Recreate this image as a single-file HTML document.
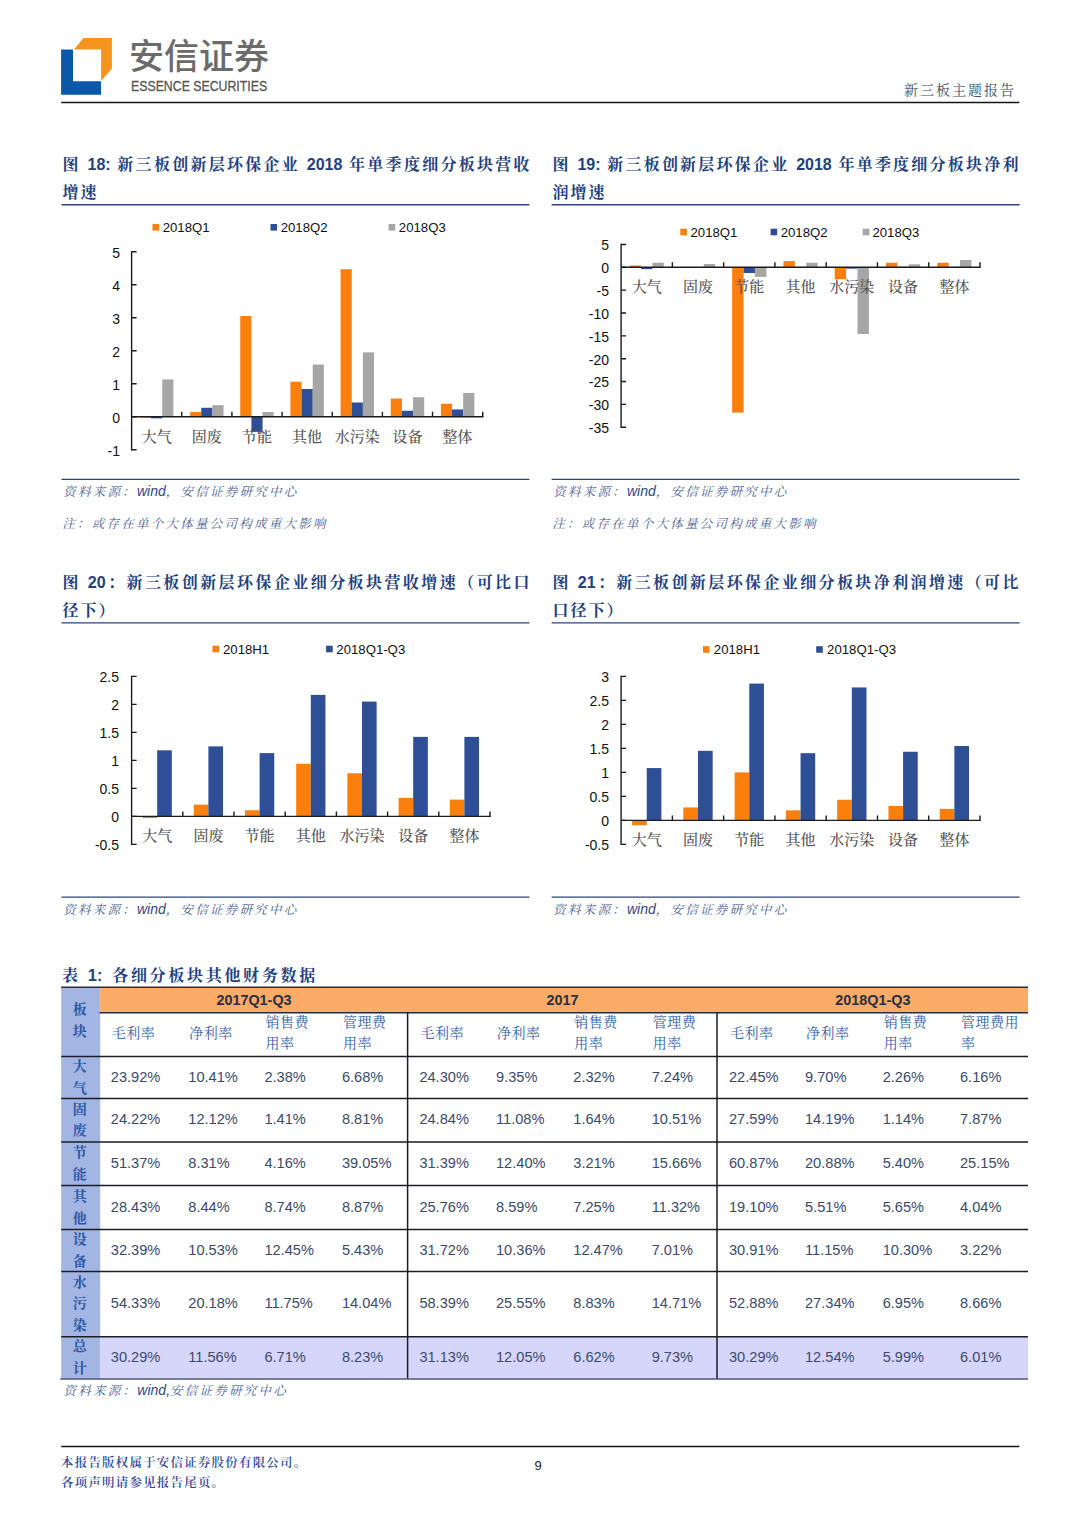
<!DOCTYPE html>
<html lang="zh-CN"><head><meta charset="utf-8"><title>新三板主题报告</title>
<style>
html,body{margin:0;padding:0;background:#fff}
body{width:1080px;height:1527px;position:relative;overflow:hidden;font-family:"Liberation Sans","Noto Sans CJK SC",sans-serif}
.abs,.ft,.src,.tbl div{position:absolute}
.logo-cn{left:129px;top:32.5px;font:500 35px/48px "Liberation Sans","Noto Sans CJK SC",sans-serif;color:#6b6b6b;letter-spacing:0;white-space:nowrap}
.logo-en{left:131px;top:77.4px;font:400 14.8px/18px "Liberation Sans",sans-serif;color:#555;-webkit-text-stroke:.3px #555;white-space:nowrap;transform:scaleX(.832);transform-origin:0 0}
.rpt{right:64px;top:80px;font:400 14px/20px "Liberation Sans","Noto Serif CJK SC",serif;color:#3d4c68;letter-spacing:2px;white-space:nowrap}
.ft{font:700 16px/26px "Liberation Sans","Noto Serif CJK SC",serif;color:#223f80;white-space:nowrap;letter-spacing:2px}
.ft.j{text-align:justify;text-align-last:justify;white-space:normal;height:26px;overflow:hidden;letter-spacing:0}
.ft .n{font-size:16px;letter-spacing:0}
.src{font:italic 400 12.5px/20px "Liberation Sans","Noto Serif CJK SC",serif;color:#4a5f96;letter-spacing:2.25px;white-space:nowrap}
.src .en{font-size:14px;letter-spacing:0;color:#2f477f}
svg{position:absolute;left:0;top:0}
.yl{font:14px "Liberation Sans",sans-serif;fill:#111}
.lg{font:13.2px "Liberation Sans",sans-serif;fill:#111}
.cl{font:500 15px "Liberation Serif","Noto Serif CJK SC",serif;fill:#555}
.tt{left:62px;top:964.2px;font:700 16px/22px "Liberation Sans","Noto Serif CJK SC",serif;color:#223f80;letter-spacing:2.7px;white-space:nowrap}
.tbl .c1t{left:60.5px;width:38.3px;text-align:center;font:700 14px/21.5px "Liberation Sans","Noto Serif CJK SC",serif;color:#2a55a5}
.tbl .td{font:400 14.6px/19px "Liberation Sans",sans-serif;color:#3b4a6b;white-space:nowrap}
.tbl .gh{width:120px;text-align:center;top:990px;font:700 14.4px/20px "Liberation Sans",sans-serif;color:#2b2f45;white-space:nowrap}
.tbl .th{font:400 14px/21px "Liberation Sans","Noto Serif CJK SC",serif;color:#3461ad;letter-spacing:.5px;white-space:nowrap}
.foot{left:61px;top:1454.3px;font:600 12.4px/19.7px "Liberation Sans","Noto Serif CJK SC",serif;color:#28469a;letter-spacing:1.3px;white-space:nowrap}
.pg{left:520px;width:36px;text-align:center;top:1457px;font:400 13px/18px "Liberation Sans",sans-serif;color:#222}
</style></head><body>
<svg width="1080" height="1527" viewBox="0 0 1080 1527">
<path d="M61.1 49.6H73V81.2H101V94.8H61.1Z" fill="#0b58a8"/>
<path d="M74 49.6L83.3 38.1H111.9V68.5L101.1 81V49.6Z" fill="#f7941e"/>
<g>
<rect x="139.96" y="416.70" width="11.15" height="0.99" fill="#FA7F0C"/>
<rect x="151.11" y="416.70" width="11.15" height="1.65" fill="#2E4E95"/>
<rect x="162.25" y="379.41" width="11.15" height="37.29" fill="#A6A6A6"/>
<rect x="190.12" y="412.08" width="11.15" height="4.62" fill="#FA7F0C"/>
<rect x="201.26" y="407.79" width="11.15" height="8.91" fill="#2E4E95"/>
<rect x="212.41" y="405.15" width="11.15" height="11.55" fill="#A6A6A6"/>
<rect x="240.27" y="316.05" width="11.15" height="100.65" fill="#FA7F0C"/>
<rect x="251.42" y="416.70" width="11.15" height="15.18" fill="#2E4E95"/>
<rect x="262.57" y="412.08" width="11.15" height="4.62" fill="#A6A6A6"/>
<rect x="290.43" y="381.72" width="11.15" height="34.98" fill="#FA7F0C"/>
<rect x="301.58" y="388.98" width="11.15" height="27.72" fill="#2E4E95"/>
<rect x="312.72" y="364.56" width="11.15" height="52.14" fill="#A6A6A6"/>
<rect x="340.59" y="269.19" width="11.15" height="147.51" fill="#FA7F0C"/>
<rect x="351.73" y="402.51" width="11.15" height="14.19" fill="#2E4E95"/>
<rect x="362.88" y="352.35" width="11.15" height="64.35" fill="#A6A6A6"/>
<rect x="390.75" y="398.55" width="11.15" height="18.15" fill="#FA7F0C"/>
<rect x="401.89" y="410.76" width="11.15" height="5.94" fill="#2E4E95"/>
<rect x="413.04" y="397.23" width="11.15" height="19.47" fill="#A6A6A6"/>
<rect x="440.90" y="403.83" width="11.15" height="12.87" fill="#FA7F0C"/>
<rect x="452.05" y="409.44" width="11.15" height="7.26" fill="#2E4E95"/>
<rect x="463.19" y="392.94" width="11.15" height="23.76" fill="#A6A6A6"/>
<path d="M131.60 251.00V450.40 M131.60 416.70H483.40" stroke="#1c1c1c" stroke-width="1.4" fill="none"/>
<path d="M131.60 449.70h5 M131.60 416.70h5 M131.60 383.70h5 M131.60 350.70h5 M131.60 317.70h5 M131.60 284.70h5 M131.60 251.70h5 M181.76 416.70v-5 M231.91 416.70v-5 M282.07 416.70v-5 M332.23 416.70v-5 M382.39 416.70v-5 M432.54 416.70v-5 M482.70 416.70v-5" stroke="#1c1c1c" stroke-width="1.4" fill="none"/>
<text x="120.0" y="455.5" text-anchor="end" class="yl">-1</text>
<text x="120.0" y="422.5" text-anchor="end" class="yl">0</text>
<text x="120.0" y="389.5" text-anchor="end" class="yl">1</text>
<text x="120.0" y="356.5" text-anchor="end" class="yl">2</text>
<text x="120.0" y="323.5" text-anchor="end" class="yl">3</text>
<text x="120.0" y="290.5" text-anchor="end" class="yl">4</text>
<text x="120.0" y="257.5" text-anchor="end" class="yl">5</text>
<text x="156.7" y="441.7" text-anchor="middle" class="cl">大气</text>
<text x="206.8" y="441.7" text-anchor="middle" class="cl">固废</text>
<text x="257.0" y="441.7" text-anchor="middle" class="cl">节能</text>
<text x="307.1" y="441.7" text-anchor="middle" class="cl">其他</text>
<text x="357.3" y="441.7" text-anchor="middle" class="cl">水污染</text>
<text x="407.5" y="441.7" text-anchor="middle" class="cl">设备</text>
<text x="457.6" y="441.7" text-anchor="middle" class="cl">整体</text>
<rect x="152.5" y="224.0" width="6.6" height="6.6" fill="#FA7F0C"/>
<text x="162.7" y="231.9" class="lg">2018Q1</text>
<rect x="270.5" y="224.0" width="6.6" height="6.6" fill="#2E4E95"/>
<text x="280.7" y="231.9" class="lg">2018Q2</text>
<rect x="388.6" y="224.0" width="6.6" height="6.6" fill="#A6A6A6"/>
<text x="398.8" y="231.9" class="lg">2018Q3</text>
</g><g>
<rect x="629.65" y="265.47" width="11.39" height="1.83" fill="#FA7F0C"/>
<rect x="641.04" y="267.30" width="11.39" height="1.83" fill="#2E4E95"/>
<rect x="652.43" y="262.73" width="11.39" height="4.57" fill="#A6A6A6"/>
<rect x="680.92" y="267.07" width="11.39" height="0.23" fill="#FA7F0C"/>
<rect x="692.31" y="267.07" width="11.39" height="0.23" fill="#2E4E95"/>
<rect x="703.70" y="264.01" width="11.39" height="3.29" fill="#A6A6A6"/>
<rect x="732.19" y="267.30" width="11.39" height="145.33" fill="#FA7F0C"/>
<rect x="743.58" y="267.30" width="11.39" height="5.71" fill="#2E4E95"/>
<rect x="754.98" y="267.30" width="11.39" height="9.60" fill="#A6A6A6"/>
<rect x="783.46" y="261.13" width="11.39" height="6.17" fill="#FA7F0C"/>
<rect x="794.85" y="266.84" width="11.39" height="0.46" fill="#2E4E95"/>
<rect x="806.25" y="262.73" width="11.39" height="4.57" fill="#A6A6A6"/>
<rect x="834.73" y="267.30" width="11.39" height="11.88" fill="#FA7F0C"/>
<rect x="846.12" y="267.30" width="11.39" height="1.37" fill="#2E4E95"/>
<rect x="857.52" y="267.30" width="11.39" height="66.72" fill="#A6A6A6"/>
<rect x="886.00" y="262.73" width="11.39" height="4.57" fill="#FA7F0C"/>
<rect x="897.40" y="266.84" width="11.39" height="0.46" fill="#2E4E95"/>
<rect x="908.79" y="264.33" width="11.39" height="2.97" fill="#A6A6A6"/>
<rect x="937.27" y="262.73" width="11.39" height="4.57" fill="#FA7F0C"/>
<rect x="948.67" y="266.84" width="11.39" height="0.46" fill="#2E4E95"/>
<rect x="960.06" y="259.99" width="11.39" height="7.31" fill="#A6A6A6"/>
<path d="M621.10 243.75V427.95 M621.10 267.30H980.70" stroke="#1c1c1c" stroke-width="1.4" fill="none"/>
<path d="M621.10 427.25h5 M621.10 404.40h5 M621.10 381.55h5 M621.10 358.70h5 M621.10 335.85h5 M621.10 313.00h5 M621.10 290.15h5 M621.10 267.30h5 M621.10 244.45h5 M672.37 267.30v-5 M723.64 267.30v-5 M774.91 267.30v-5 M826.19 267.30v-5 M877.46 267.30v-5 M928.73 267.30v-5 M980.00 267.30v-5" stroke="#1c1c1c" stroke-width="1.4" fill="none"/>
<text x="609.0" y="433.1" text-anchor="end" class="yl">-35</text>
<text x="609.0" y="410.2" text-anchor="end" class="yl">-30</text>
<text x="609.0" y="387.4" text-anchor="end" class="yl">-25</text>
<text x="609.0" y="364.5" text-anchor="end" class="yl">-20</text>
<text x="609.0" y="341.7" text-anchor="end" class="yl">-15</text>
<text x="609.0" y="318.8" text-anchor="end" class="yl">-10</text>
<text x="609.0" y="296.0" text-anchor="end" class="yl">-5</text>
<text x="609.0" y="273.1" text-anchor="end" class="yl">0</text>
<text x="609.0" y="250.3" text-anchor="end" class="yl">5</text>
<text x="646.7" y="291.7" text-anchor="middle" class="cl">大气</text>
<text x="698.0" y="291.7" text-anchor="middle" class="cl">固废</text>
<text x="749.3" y="291.7" text-anchor="middle" class="cl">节能</text>
<text x="800.5" y="291.7" text-anchor="middle" class="cl">其他</text>
<text x="851.8" y="291.7" text-anchor="middle" class="cl">水污染</text>
<text x="903.1" y="291.7" text-anchor="middle" class="cl">设备</text>
<text x="954.4" y="291.7" text-anchor="middle" class="cl">整体</text>
<rect x="680.3" y="228.7" width="6.6" height="6.6" fill="#FA7F0C"/>
<text x="690.5" y="236.6" class="lg">2018Q1</text>
<rect x="770.6" y="228.7" width="6.6" height="6.6" fill="#2E4E95"/>
<text x="780.7" y="236.6" class="lg">2018Q2</text>
<rect x="862.7" y="228.7" width="6.6" height="6.6" fill="#A6A6A6"/>
<text x="872.4" y="236.6" class="lg">2018Q3</text>
</g><g>
<rect x="142.57" y="816.40" width="14.63" height="1.68" fill="#FA7F0C"/>
<rect x="157.20" y="750.32" width="14.63" height="66.08" fill="#2E4E95"/>
<rect x="193.77" y="804.64" width="14.63" height="11.76" fill="#FA7F0C"/>
<rect x="208.40" y="746.40" width="14.63" height="70.00" fill="#2E4E95"/>
<rect x="244.97" y="810.24" width="14.63" height="6.16" fill="#FA7F0C"/>
<rect x="259.60" y="753.12" width="14.63" height="63.28" fill="#2E4E95"/>
<rect x="296.17" y="763.76" width="14.63" height="52.64" fill="#FA7F0C"/>
<rect x="310.80" y="694.88" width="14.63" height="121.52" fill="#2E4E95"/>
<rect x="347.37" y="773.28" width="14.63" height="43.12" fill="#FA7F0C"/>
<rect x="362.00" y="701.60" width="14.63" height="114.80" fill="#2E4E95"/>
<rect x="398.57" y="797.92" width="14.63" height="18.48" fill="#FA7F0C"/>
<rect x="413.20" y="736.88" width="14.63" height="79.52" fill="#2E4E95"/>
<rect x="449.77" y="799.60" width="14.63" height="16.80" fill="#FA7F0C"/>
<rect x="464.40" y="736.88" width="14.63" height="79.52" fill="#2E4E95"/>
<path d="M131.60 675.70V845.10 M131.60 816.40H490.70" stroke="#1c1c1c" stroke-width="1.4" fill="none"/>
<path d="M131.60 844.40h5 M131.60 816.40h5 M131.60 788.40h5 M131.60 760.40h5 M131.60 732.40h5 M131.60 704.40h5 M131.60 676.40h5 M182.80 816.40v-5 M234.00 816.40v-5 M285.20 816.40v-5 M336.40 816.40v-5 M387.60 816.40v-5 M438.80 816.40v-5 M490.00 816.40v-5" stroke="#1c1c1c" stroke-width="1.4" fill="none"/>
<text x="119.0" y="850.2" text-anchor="end" class="yl">-0.5</text>
<text x="119.0" y="822.2" text-anchor="end" class="yl">0</text>
<text x="119.0" y="794.2" text-anchor="end" class="yl">0.5</text>
<text x="119.0" y="766.2" text-anchor="end" class="yl">1</text>
<text x="119.0" y="738.2" text-anchor="end" class="yl">1.5</text>
<text x="119.0" y="710.2" text-anchor="end" class="yl">2</text>
<text x="119.0" y="682.2" text-anchor="end" class="yl">2.5</text>
<text x="157.2" y="841.2" text-anchor="middle" class="cl">大气</text>
<text x="208.4" y="841.2" text-anchor="middle" class="cl">固废</text>
<text x="259.6" y="841.2" text-anchor="middle" class="cl">节能</text>
<text x="310.8" y="841.2" text-anchor="middle" class="cl">其他</text>
<text x="362.0" y="841.2" text-anchor="middle" class="cl">水污染</text>
<text x="413.2" y="841.2" text-anchor="middle" class="cl">设备</text>
<text x="464.4" y="841.2" text-anchor="middle" class="cl">整体</text>
<rect x="212.5" y="645.7" width="6.6" height="6.6" fill="#FA7F0C"/>
<text x="223.0" y="653.6" class="lg">2018H1</text>
<rect x="326.1" y="645.7" width="6.6" height="6.6" fill="#2E4E95"/>
<text x="336.3" y="653.6" class="lg">2018Q1-Q3</text>
</g><g>
<rect x="632.09" y="820.40" width="14.65" height="4.80" fill="#FA7F0C"/>
<rect x="646.74" y="768.08" width="14.65" height="52.32" fill="#2E4E95"/>
<rect x="683.36" y="807.44" width="14.65" height="12.96" fill="#FA7F0C"/>
<rect x="698.01" y="750.80" width="14.65" height="69.60" fill="#2E4E95"/>
<rect x="734.63" y="772.40" width="14.65" height="48.00" fill="#FA7F0C"/>
<rect x="749.28" y="683.60" width="14.65" height="136.80" fill="#2E4E95"/>
<rect x="785.90" y="810.32" width="14.65" height="10.08" fill="#FA7F0C"/>
<rect x="800.55" y="753.20" width="14.65" height="67.20" fill="#2E4E95"/>
<rect x="837.17" y="799.76" width="14.65" height="20.64" fill="#FA7F0C"/>
<rect x="851.82" y="687.44" width="14.65" height="132.96" fill="#2E4E95"/>
<rect x="888.44" y="806.00" width="14.65" height="14.40" fill="#FA7F0C"/>
<rect x="903.09" y="751.76" width="14.65" height="68.64" fill="#2E4E95"/>
<rect x="939.72" y="808.88" width="14.65" height="11.52" fill="#FA7F0C"/>
<rect x="954.36" y="746.00" width="14.65" height="74.40" fill="#2E4E95"/>
<path d="M621.10 675.70V845.10 M621.10 820.40H980.70" stroke="#1c1c1c" stroke-width="1.4" fill="none"/>
<path d="M621.10 844.40h5 M621.10 820.40h5 M621.10 796.40h5 M621.10 772.40h5 M621.10 748.40h5 M621.10 724.40h5 M621.10 700.40h5 M621.10 676.40h5 M672.37 820.40v-5 M723.64 820.40v-5 M774.91 820.40v-5 M826.19 820.40v-5 M877.46 820.40v-5 M928.73 820.40v-5 M980.00 820.40v-5" stroke="#1c1c1c" stroke-width="1.4" fill="none"/>
<text x="609.0" y="850.2" text-anchor="end" class="yl">-0.5</text>
<text x="609.0" y="826.2" text-anchor="end" class="yl">0</text>
<text x="609.0" y="802.2" text-anchor="end" class="yl">0.5</text>
<text x="609.0" y="778.2" text-anchor="end" class="yl">1</text>
<text x="609.0" y="754.2" text-anchor="end" class="yl">1.5</text>
<text x="609.0" y="730.2" text-anchor="end" class="yl">2</text>
<text x="609.0" y="706.2" text-anchor="end" class="yl">2.5</text>
<text x="609.0" y="682.2" text-anchor="end" class="yl">3</text>
<text x="646.7" y="845.0" text-anchor="middle" class="cl">大气</text>
<text x="698.0" y="845.0" text-anchor="middle" class="cl">固废</text>
<text x="749.3" y="845.0" text-anchor="middle" class="cl">节能</text>
<text x="800.5" y="845.0" text-anchor="middle" class="cl">其他</text>
<text x="851.8" y="845.0" text-anchor="middle" class="cl">水污染</text>
<text x="903.1" y="845.0" text-anchor="middle" class="cl">设备</text>
<text x="954.4" y="845.0" text-anchor="middle" class="cl">整体</text>
<rect x="703.0" y="646.2" width="6.6" height="6.6" fill="#FA7F0C"/>
<text x="713.8" y="654.1" class="lg">2018H1</text>
<rect x="816.2" y="646.2" width="6.6" height="6.6" fill="#2E4E95"/>
<text x="827.1" y="654.1" class="lg">2018Q1-Q3</text>
</g>
<path d="M61.2 102.6H1019.3M61.2 1446.4H1019.3" stroke="#151515" stroke-width="1.5"/>
<path d="M61.5 204.7H529.4 M551.6 204.7H1019.6 M61.5 622.9H529.4 M551.6 622.9H1019.6 M61.5 479.4H529.4 M551.6 479.4H1019.6 M61.5 897.1H529.4 M551.6 897.1H1019.6" stroke="#2d447f" stroke-width="1.4" fill="none"/>
<g id="tl"><rect x="61.2" y="987" width="39" height="392.1" fill="#a3b6e3"/>
<rect x="100.2" y="1336.8" width="927.8" height="42.3" fill="#d6d6fb"/>
<rect x="100.2" y="987.2" width="927.8" height="25.6" fill="#faab66"/>
<path d="M61.2 987.2H1028M99.6 1012.8H1028" stroke="#2b2a40" stroke-width="1.4"/>
<path d="M61.2 1056.5H1028 M61.2 1098.4H1028 M61.2 1142.0H1028 M61.2 1185.6H1028 M61.2 1229.4H1028 M61.2 1271.6H1028 M61.2 1336.8H1028 M407.6 1012.8V1379.1 M717 1012.8V1379.1" stroke="#1d1d26" stroke-width="1.5" fill="none"/>
<path d="M60.2 1379.1H1028" stroke="#50557f" stroke-width="1.5"/></g>
</svg>
<div class="abs logo-cn">安信证券</div>
<div class="abs logo-en">ESSENCE SECURITIES</div>
<div class="abs rpt">新三板主题报告</div>
<div class="ft j" style="left:62.5px;width:467.0px;top:152.1px">图 <span class="n">18</span>: 新三板创新层环保企业 <span class="n">2018</span> 年单季度细分板块营收</div><div class="ft" style="left:62.5px;width:467.0px;top:179.8px">增速</div><div class="ft j" style="left:552.5px;width:466.0px;top:152.1px">图 <span class="n">19</span>: 新三板创新层环保企业 <span class="n">2018</span> 年单季度细分板块净利</div><div class="ft" style="left:552.5px;width:466.0px;top:179.8px">润增速</div><div class="ft j" style="left:62.5px;width:467.0px;top:570.3px">图 <span class="n">20</span>：新三板创新层环保企业细分板块营收增速（可比口</div><div class="ft" style="left:62.5px;width:467.0px;top:598.0px">径下）</div><div class="ft j" style="left:552.5px;width:466.0px;top:570.3px">图 <span class="n">21</span>：新三板创新层环保企业细分板块净利润增速（可比</div><div class="ft" style="left:552.5px;width:466.0px;top:598.0px">口径下）</div><div class="src" style="left:63.2px;top:481.4px">资料来源：<span class="en">wind</span>，安信证券研究中心</div><div class="src" style="left:62.2px;top:514.2px">注：或存在单个大体量公司构成重大影响</div><div class="src" style="left:553.2px;top:481.4px">资料来源：<span class="en">wind</span>，安信证券研究中心</div><div class="src" style="left:552.2px;top:514.2px">注：或存在单个大体量公司构成重大影响</div><div class="src" style="left:63.2px;top:899.1px">资料来源：<span class="en">wind</span>，安信证券研究中心</div><div class="src" style="left:553.2px;top:899.1px">资料来源：<span class="en">wind</span>，安信证券研究中心</div>
<div class="abs tt">表 <span style="font-size:16.5px;letter-spacing:0">1</span>: 各细分板块其他财务数据</div>
<div class="tbl">
<div class="c1t" style="top:999px">板<br>块</div>
<div class="c1t" style="top:1056.0px">大<br>气</div>
<div class="td" style="left:110.8px;top:1067.7px">23.92%</div>
<div class="td" style="left:188.3px;top:1067.7px">10.41%</div>
<div class="td" style="left:264.4px;top:1067.7px">2.38%</div>
<div class="td" style="left:341.9px;top:1067.7px">6.68%</div>
<div class="td" style="left:419.4px;top:1067.7px">24.30%</div>
<div class="td" style="left:496.0px;top:1067.7px">9.35%</div>
<div class="td" style="left:573.3px;top:1067.7px">2.32%</div>
<div class="td" style="left:651.7px;top:1067.7px">7.24%</div>
<div class="td" style="left:729.0px;top:1067.7px">22.45%</div>
<div class="td" style="left:805.0px;top:1067.7px">9.70%</div>
<div class="td" style="left:882.7px;top:1067.7px">2.26%</div>
<div class="td" style="left:960.0px;top:1067.7px">6.16%</div>
<div class="c1t" style="top:1098.7px">固<br>废</div>
<div class="td" style="left:110.8px;top:1110.4px">24.22%</div>
<div class="td" style="left:188.3px;top:1110.4px">12.12%</div>
<div class="td" style="left:264.4px;top:1110.4px">1.41%</div>
<div class="td" style="left:341.9px;top:1110.4px">8.81%</div>
<div class="td" style="left:419.4px;top:1110.4px">24.84%</div>
<div class="td" style="left:496.0px;top:1110.4px">11.08%</div>
<div class="td" style="left:573.3px;top:1110.4px">1.64%</div>
<div class="td" style="left:651.7px;top:1110.4px">10.51%</div>
<div class="td" style="left:729.0px;top:1110.4px">27.59%</div>
<div class="td" style="left:805.0px;top:1110.4px">14.19%</div>
<div class="td" style="left:882.7px;top:1110.4px">1.14%</div>
<div class="td" style="left:960.0px;top:1110.4px">7.87%</div>
<div class="c1t" style="top:1142.3px">节<br>能</div>
<div class="td" style="left:110.8px;top:1154.0px">51.37%</div>
<div class="td" style="left:188.3px;top:1154.0px">8.31%</div>
<div class="td" style="left:264.4px;top:1154.0px">4.16%</div>
<div class="td" style="left:341.9px;top:1154.0px">39.05%</div>
<div class="td" style="left:419.4px;top:1154.0px">31.39%</div>
<div class="td" style="left:496.0px;top:1154.0px">12.40%</div>
<div class="td" style="left:573.3px;top:1154.0px">3.21%</div>
<div class="td" style="left:651.7px;top:1154.0px">15.66%</div>
<div class="td" style="left:729.0px;top:1154.0px">60.87%</div>
<div class="td" style="left:805.0px;top:1154.0px">20.88%</div>
<div class="td" style="left:882.7px;top:1154.0px">5.40%</div>
<div class="td" style="left:960.0px;top:1154.0px">25.15%</div>
<div class="c1t" style="top:1186.0px">其<br>他</div>
<div class="td" style="left:110.8px;top:1197.7px">28.43%</div>
<div class="td" style="left:188.3px;top:1197.7px">8.44%</div>
<div class="td" style="left:264.4px;top:1197.7px">8.74%</div>
<div class="td" style="left:341.9px;top:1197.7px">8.87%</div>
<div class="td" style="left:419.4px;top:1197.7px">25.76%</div>
<div class="td" style="left:496.0px;top:1197.7px">8.59%</div>
<div class="td" style="left:573.3px;top:1197.7px">7.25%</div>
<div class="td" style="left:651.7px;top:1197.7px">11.32%</div>
<div class="td" style="left:729.0px;top:1197.7px">19.10%</div>
<div class="td" style="left:805.0px;top:1197.7px">5.51%</div>
<div class="td" style="left:882.7px;top:1197.7px">5.65%</div>
<div class="td" style="left:960.0px;top:1197.7px">4.04%</div>
<div class="c1t" style="top:1229.0px">设<br>备</div>
<div class="td" style="left:110.8px;top:1240.7px">32.39%</div>
<div class="td" style="left:188.3px;top:1240.7px">10.53%</div>
<div class="td" style="left:264.4px;top:1240.7px">12.45%</div>
<div class="td" style="left:341.9px;top:1240.7px">5.43%</div>
<div class="td" style="left:419.4px;top:1240.7px">31.72%</div>
<div class="td" style="left:496.0px;top:1240.7px">10.36%</div>
<div class="td" style="left:573.3px;top:1240.7px">12.47%</div>
<div class="td" style="left:651.7px;top:1240.7px">7.01%</div>
<div class="td" style="left:729.0px;top:1240.7px">30.91%</div>
<div class="td" style="left:805.0px;top:1240.7px">11.15%</div>
<div class="td" style="left:882.7px;top:1240.7px">10.30%</div>
<div class="td" style="left:960.0px;top:1240.7px">3.22%</div>
<div class="c1t" style="top:1271.9px">水<br>污<br>染</div>
<div class="td" style="left:110.8px;top:1294.4px">54.33%</div>
<div class="td" style="left:188.3px;top:1294.4px">20.18%</div>
<div class="td" style="left:264.4px;top:1294.4px">11.75%</div>
<div class="td" style="left:341.9px;top:1294.4px">14.04%</div>
<div class="td" style="left:419.4px;top:1294.4px">58.39%</div>
<div class="td" style="left:496.0px;top:1294.4px">25.55%</div>
<div class="td" style="left:573.3px;top:1294.4px">8.83%</div>
<div class="td" style="left:651.7px;top:1294.4px">14.71%</div>
<div class="td" style="left:729.0px;top:1294.4px">52.88%</div>
<div class="td" style="left:805.0px;top:1294.4px">27.34%</div>
<div class="td" style="left:882.7px;top:1294.4px">6.95%</div>
<div class="td" style="left:960.0px;top:1294.4px">8.66%</div>
<div class="c1t" style="top:1336.4px">总<br>计</div>
<div class="td" style="left:110.8px;top:1348.1px">30.29%</div>
<div class="td" style="left:188.3px;top:1348.1px">11.56%</div>
<div class="td" style="left:264.4px;top:1348.1px">6.71%</div>
<div class="td" style="left:341.9px;top:1348.1px">8.23%</div>
<div class="td" style="left:419.4px;top:1348.1px">31.13%</div>
<div class="td" style="left:496.0px;top:1348.1px">12.05%</div>
<div class="td" style="left:573.3px;top:1348.1px">6.62%</div>
<div class="td" style="left:651.7px;top:1348.1px">9.73%</div>
<div class="td" style="left:729.0px;top:1348.1px">30.29%</div>
<div class="td" style="left:805.0px;top:1348.1px">12.54%</div>
<div class="td" style="left:882.7px;top:1348.1px">5.99%</div>
<div class="td" style="left:960.0px;top:1348.1px">6.01%</div>
<div class="gh" style="left:194.0px">2017Q1-Q3</div>
<div class="gh" style="left:502.5px">2017</div>
<div class="gh" style="left:812.8px">2018Q1-Q3</div>
<div class="th" style="left:111.8px;top:1022.5px">毛利率</div>
<div class="th" style="left:189.3px;top:1022.5px">净利率</div>
<div class="th" style="left:265.4px;top:1012.0px">销售费<br>用率</div>
<div class="th" style="left:342.9px;top:1012.0px">管理费<br>用率</div>
<div class="th" style="left:420.4px;top:1022.5px">毛利率</div>
<div class="th" style="left:497.0px;top:1022.5px">净利率</div>
<div class="th" style="left:574.3px;top:1012.0px">销售费<br>用率</div>
<div class="th" style="left:652.7px;top:1012.0px">管理费<br>用率</div>
<div class="th" style="left:730.0px;top:1022.5px">毛利率</div>
<div class="th" style="left:806.0px;top:1022.5px">净利率</div>
<div class="th" style="left:883.7px;top:1012.0px">销售费<br>用率</div>
<div class="th" style="left:961.0px;top:1012.0px">管理费用<br>率</div>
</div>
<div class="src" style="left:63.6px;top:1380px">资料来源：<span class="en">wind,</span>安信证券研究中心</div>
<div class="abs foot">本报告版权属于安信证券股份有限公司。<br>各项声明请参见报告尾页。</div>
<div class="abs pg">9</div>
</body></html>
